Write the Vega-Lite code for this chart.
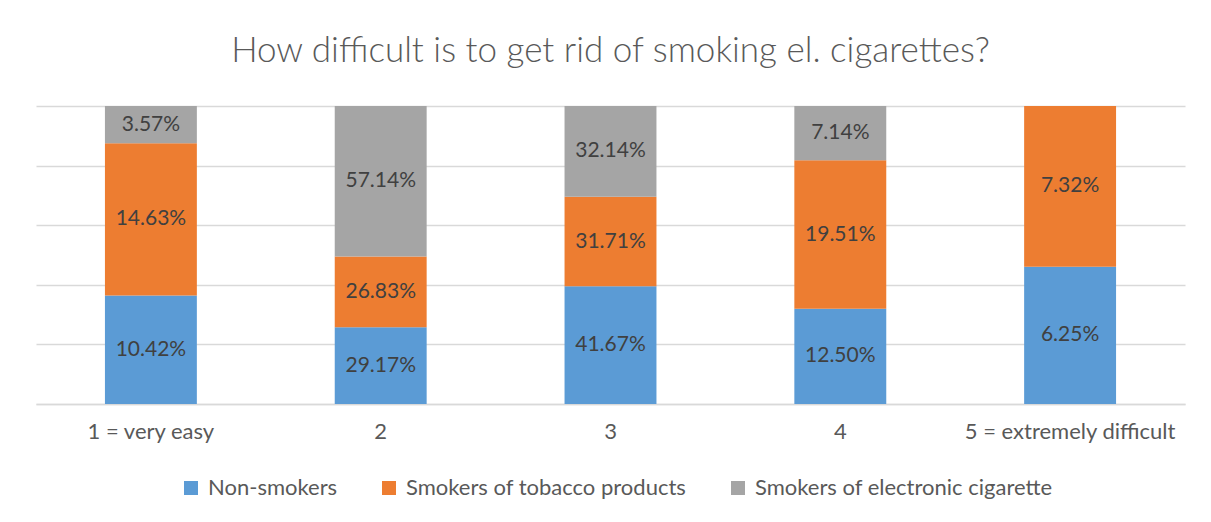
{
  "$schema": "https://vega.github.io/schema/vega-lite/v6.json",
  "width": 1149,
  "height": 298,
  "autosize": "none",
  "padding": {"left": 36, "top": 106, "right": 26, "bottom": 118},
  "background": "white",
  "title": {
    "text": "How difficult is to get rid of smoking el. cigarettes?",
    "font": "Lato",
    "fontSize": 35,
    "fontWeight": 300,
    "color": "#595959",
    "anchor": "middle",
    "offset": 37
  },
  "config": {
    "view": {"stroke": null},
    "font": "Lato"
  },
  "data": {
    "values": [
      {"cat": "1 = very easy", "ci": 1, "group": "Non-smokers", "gi": 1, "value": 0.1042},
      {"cat": "1 = very easy", "ci": 1, "group": "Smokers of tobacco products", "gi": 2, "value": 0.1463},
      {"cat": "1 = very easy", "ci": 1, "group": "Smokers of electronic cigarette", "gi": 3, "value": 0.0357},
      {"cat": "2", "ci": 2, "group": "Non-smokers", "gi": 1, "value": 0.2917},
      {"cat": "2", "ci": 2, "group": "Smokers of tobacco products", "gi": 2, "value": 0.2683},
      {"cat": "2", "ci": 2, "group": "Smokers of electronic cigarette", "gi": 3, "value": 0.5714},
      {"cat": "3", "ci": 3, "group": "Non-smokers", "gi": 1, "value": 0.4167},
      {"cat": "3", "ci": 3, "group": "Smokers of tobacco products", "gi": 2, "value": 0.3171},
      {"cat": "3", "ci": 3, "group": "Smokers of electronic cigarette", "gi": 3, "value": 0.3214},
      {"cat": "4", "ci": 4, "group": "Non-smokers", "gi": 1, "value": 0.125},
      {"cat": "4", "ci": 4, "group": "Smokers of tobacco products", "gi": 2, "value": 0.1951},
      {"cat": "4", "ci": 4, "group": "Smokers of electronic cigarette", "gi": 3, "value": 0.0714},
      {"cat": "5 = extremely difficult", "ci": 5, "group": "Non-smokers", "gi": 1, "value": 0.0625},
      {"cat": "5 = extremely difficult", "ci": 5, "group": "Smokers of tobacco products", "gi": 2, "value": 0.0732}
    ]
  },
  "transform": [
    {"stack": "value", "groupby": ["cat"], "sort": [{"field": "gi", "order": "ascending"}], "offset": "normalize", "as": ["y0", "y1"]},
    {"calculate": "(datum.y0 + datum.y1) / 2", "as": "ymid"}
  ],
  "encoding": {
    "x": {
      "field": "cat",
      "type": "nominal",
      "sort": {"field": "ci"},
      "title": null,
      "scale": {"paddingInner": 0.6, "paddingOuter": 0.3},
      "axis": {
        "labelAngle": 0,
        "labelFontSize": 22,
        "labelColor": "#595959",
        "labelFont": "Lato",
        "labelLimit": 400,
        "ticks": false,
        "labelPadding": 17,
        "domainColor": "#d9d9d9",
        "domainWidth": 1.5
      }
    }
  },
  "layer": [
    {
      "mark": {"type": "bar"},
      "encoding": {
        "y": {
          "field": "y0",
          "type": "quantitative",
          "scale": {"domain": [0, 1]},
          "title": null,
          "axis": {
            "labels": false,
            "ticks": false,
            "domain": false,
            "grid": true,
            "gridColor": "#d9d9d9",
            "gridWidth": 1.5,
            "values": [0, 0.2, 0.4, 0.6, 0.8, 1]
          }
        },
        "y2": {"field": "y1"},
        "color": {
          "field": "group",
          "type": "nominal",
          "scale": {
            "domain": ["Non-smokers", "Smokers of tobacco products", "Smokers of electronic cigarette"],
            "range": ["#5B9BD5", "#ED7D31", "#A5A5A5"]
          },
          "legend": {
            "orient": "none",
            "legendX": 144,
            "legendY": 371,
            "padding": 0,
            "direction": "horizontal",
            "title": null,
            "symbolType": "square",
            "symbolSize": 196,
            "symbolStrokeWidth": 0,
            "labelFontSize": 22,
            "labelColor": "#595959",
            "labelFont": "Lato",
            "labelOffset": 6,
            "columnPadding": 40,
            "labelLimit": 400
          }
        }
      }
    },
    {
      "mark": {"type": "text", "fontSize": 21, "color": "#404040", "font": "Lato", "baseline": "middle"},
      "encoding": {
        "y": {"field": "ymid", "type": "quantitative"},
        "text": {"field": "value", "type": "quantitative", "format": ".2%"}
      }
    }
  ]
}
